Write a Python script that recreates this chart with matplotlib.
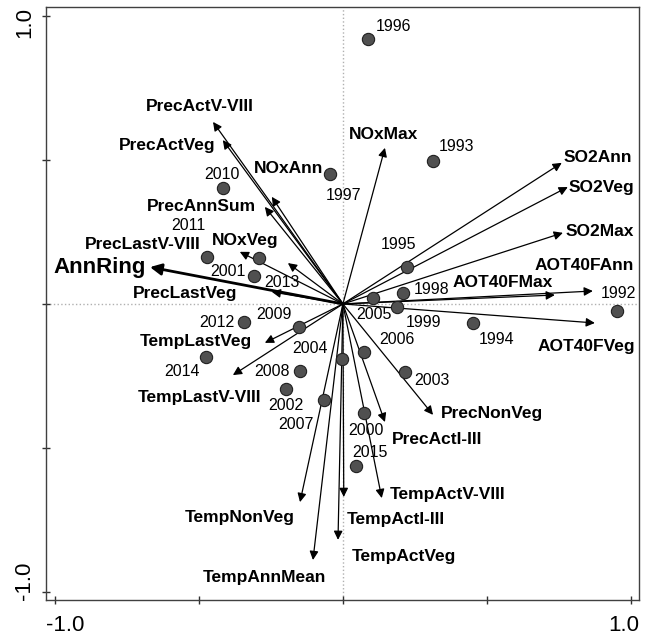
import matplotlib
matplotlib.use("Agg")
import matplotlib.pyplot as plt

# --- environmental variables (arrow tips, ordination scores) ---
var_names = [
    "PrecActV-VIII", "PrecActVeg", "NOxAnn", "PrecAnnSum", "PrecLastV-VIII",
    "NOxVeg", "PrecLastVeg", "NOxMax", "SO2Ann", "SO2Veg", "SO2Max",
    "AOT40FAnn", "AOT40FMax", "AOT40FVeg", "PrecNonVeg", "PrecActI-III",
    "TempActV-VIII", "TempActI-III", "TempActVeg", "TempNonVeg",
    "TempAnnMean", "TempLastVeg", "TempLastV-VIII",
]
var_x = [-0.451, -0.417, -0.247, -0.271, -0.358, -0.191, -0.247, 0.146,
         0.760, 0.781, 0.764, 0.868, 0.736, 0.875, 0.313, 0.146,
         0.135, 0.003, -0.017, -0.149, -0.104, -0.271, -0.382]
var_y = [0.632, 0.569, 0.372, 0.337, 0.181, 0.142, 0.042, 0.542,
         0.490, 0.406, 0.247, 0.045, 0.031, -0.066, -0.385, -0.410,
         -0.674, -0.670, -0.819, -0.688, -0.889, -0.135, -0.247]

# response variable
resp_name = "AnnRing"
resp_x = -0.670
resp_y = 0.128

# --- years (sample scores) ---
years = [str(y) for y in range(1992, 2016)]
year_x = [0.951, 0.313, 0.451, 0.222, 0.087, -0.045, 0.208, 0.188, 0.073,
          -0.292, -0.198, 0.215, -0.003, 0.104, 0.073, -0.066, -0.149,
          -0.153, -0.417, -0.472, -0.344, -0.309, -0.476, 0.045]
year_y = [-0.024, 0.497, -0.066, 0.128, 0.920, 0.451, 0.038, -0.010, -0.378,
          0.160, -0.295, -0.236, -0.191, 0.021, -0.167, -0.333, -0.233,
          -0.080, 0.403, 0.163, -0.063, 0.097, -0.184, -0.563]

# label placement (data coords), hand-placed as in the original figure
var_label_pos = {
    "PrecActV-VIII": (-0.497, 0.684), "PrecActVeg": (-0.611, 0.549),
    "NOxAnn": (-0.188, 0.472), "PrecAnnSum": (-0.490, 0.337),
    "PrecLastV-VIII": (-0.694, 0.208), "NOxVeg": (-0.340, 0.222),
    "PrecLastVeg": (-0.549, 0.035), "NOxMax": (0.142, 0.590),
    "SO2Ann": (0.885, 0.507), "SO2Veg": (0.899, 0.406),
    "SO2Max": (0.892, 0.253), "AOT40FAnn": (0.837, 0.135),
    "AOT40FMax": (0.556, 0.076), "AOT40FVeg": (0.844, -0.146),
    "PrecNonVeg": (0.517, -0.382), "PrecActI-III": (0.326, -0.469),
    "TempActV-VIII": (0.365, -0.663), "TempActI-III": (0.184, -0.750),
    "TempActVeg": (0.212, -0.878), "TempNonVeg": (-0.358, -0.743),
    "TempAnnMean": (-0.274, -0.948), "TempLastVeg": (-0.510, -0.132),
    "TempLastV-VIII": (-0.497, -0.326),
}
resp_label_pos = (-0.844, 0.128)
year_label_pos = {
    "1992": (0.958, 0.035), "1993": (0.396, 0.545), "1994": (0.535, -0.122),
    "1995": (0.194, 0.208), "1996": (0.174, 0.965), "1997": (0.003, 0.378),
    "1998": (0.309, 0.049), "1999": (0.281, -0.063), "2000": (0.080, -0.438),
    "2001": (-0.399, 0.111), "2002": (-0.198, -0.354), "2003": (0.309, -0.267),
    "2004": (-0.115, -0.156), "2005": (0.108, -0.035), "2006": (0.188, -0.125),
    "2007": (-0.163, -0.417), "2008": (-0.247, -0.236), "2009": (-0.240, -0.038),
    "2010": (-0.420, 0.451), "2011": (-0.535, 0.274), "2012": (-0.438, -0.063),
    "2013": (-0.212, 0.073), "2014": (-0.559, -0.236), "2015": (0.094, -0.517),
}

plt.rcParams['font.family'] = ['Liberation Sans', 'DejaVu Sans']

fig = plt.figure(figsize=(6.48, 6.37), dpi=100)
ax = fig.add_axes([0.071, 0.058, 0.915, 0.931])
ax.set_xlim(-1.031, 1.028)
ax.set_ylim(-1.028, 1.031)

# axis cross lines
ax.axhline(0, color='#b0b0b0', lw=1.0, ls=':', zorder=1)
ax.axvline(0, color='#b0b0b0', lw=1.0, ls=':', zorder=1)

# arrows for explanatory variables
for name, x, y in zip(var_names, var_x, var_y):
    ax.annotate("", xy=(x, y), xytext=(0, 0),
                arrowprops=dict(arrowstyle='-|>', color='black', lw=0.9,
                                mutation_scale=13, shrinkA=0, shrinkB=0),
                zorder=2)
    lx, ly = var_label_pos[name]
    ax.text(lx, ly, name, ha='center', va='center', fontsize=12.5,
            fontweight='bold', zorder=4)

# response arrow
ax.annotate("", xy=(resp_x, resp_y), xytext=(0, 0),
            arrowprops=dict(arrowstyle='-|>', color='black', lw=2.0,
                            mutation_scale=17, shrinkA=0, shrinkB=0),
            zorder=2)
ax.text(*resp_label_pos, resp_name, ha='center', va='center', fontsize=16,
        fontweight='bold', zorder=4)

# years
ax.scatter(year_x, year_y, s=78, facecolor='#505050', edgecolor='#202020',
           linewidth=0.8, zorder=3)
for yr in years:
    lx, ly = year_label_pos[yr]
    ax.text(lx, ly, yr, ha='center', va='center', fontsize=11.5, zorder=4)

# ticks: crossing marks, labels only at the ends
ax.set_xticks([-1.0, -0.5, 0.0, 0.5, 1.0])
ax.set_yticks([-1.0, -0.5, 0.0, 0.5, 1.0])
ax.set_xticklabels([])
ax.set_yticklabels([])
ax.tick_params(direction='inout', length=6, width=1.0, color='#303030')
for sp in ax.spines.values():
    sp.set_color('#404040')
    sp.set_linewidth(1.0)

ax.text(0.0, -0.025, "-1.0", transform=ax.transAxes, ha='left', va='top',
        fontsize=16)
ax.text(1.0, -0.025, "1.0", transform=ax.transAxes, ha='right', va='top',
        fontsize=16)
ax.text(-0.018, 1.0, "1.0", transform=ax.transAxes, ha='right', va='top',
        fontsize=16, rotation=90)
ax.text(-0.018, 0.0, "-1.0", transform=ax.transAxes, ha='right', va='bottom',
        fontsize=16, rotation=90)

fig.savefig("out.png", dpi=100)
